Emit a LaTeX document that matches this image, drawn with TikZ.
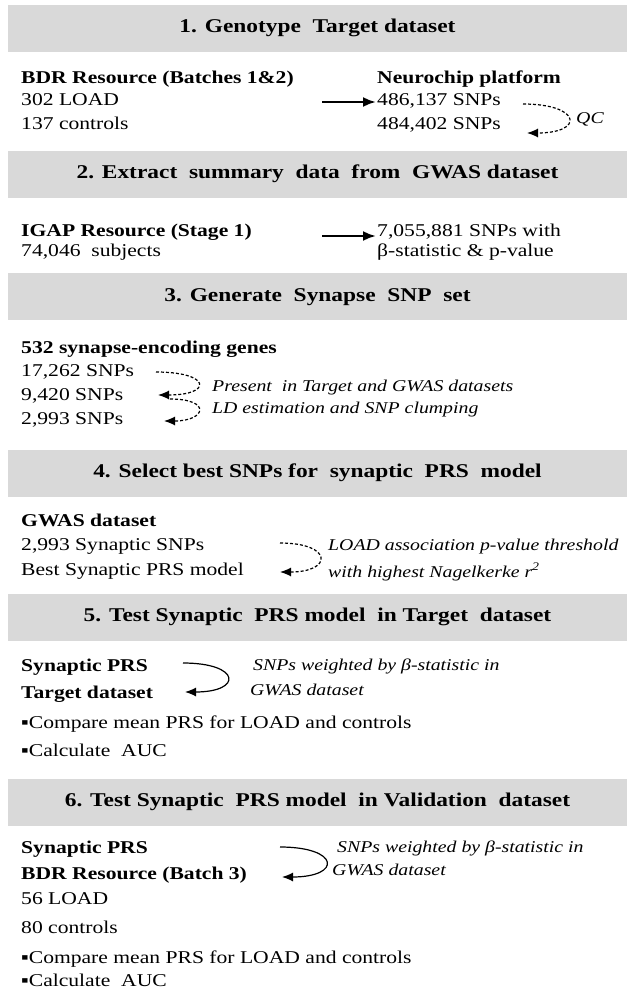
\documentclass[tikz,border=0pt]{standalone}
\usepackage{fontspec}
\setmainfont{Liberation Serif}[FakeStretch=1.2]
\usetikzlibrary{arrows.meta}
\definecolor{headgray}{RGB}{217,217,217}
\begin{document}
\begin{tikzpicture}[x=1pt,y=-1pt,
  hdr/.style={fill=headgray, draw=none, minimum width=619pt, minimum height=47pt, inner sep=0pt,
    font=\fontsize{19.5}{22}\selectfont\bfseries, text height=13pt, text depth=4pt},
  txt/.style={font=\fontsize{18}{20}\selectfont, anchor=base west, inner sep=0pt},
  btxt/.style={txt, font=\fontsize{18}{20}\selectfont\bfseries},
  itxt/.style={font=\fontsize{16.5}{19}\selectfont\itshape, anchor=base west, inner sep=0pt},
  bigarrow/.style={line width=2.4pt, -{Latex[length=13pt,width=10pt]}},
  curvearrow/.style={line width=1.2pt, -{Latex[length=11pt,width=9pt]}},
  dashcurve/.style={curvearrow, dash pattern=on 3pt off 2pt},
]
\useasboundingbox (0,0) rectangle (627,1006);

% headers
\node[hdr] (h1) at (317.5,28.5) {1. Genotype\ \ Target dataset};
\node[hdr] (h2) at (317.5,174) {2. Extract\ \ summary\ \ data\ \ from\ \ GWAS dataset};
\node[hdr] (h3) at (317.5,296.5) {3. Generate\ \ Synapse\ \ SNP\ \ set};
\node[hdr] (h4) at (317.5,473) {4. Select best SNPs for\ \ synaptic\ \ PRS\ \ model};
\node[hdr] (h5) at (317.5,617) {5. Test Synaptic\ \ PRS model\ \ in Target\ \ dataset};
\node[hdr] (h6) at (317.5,802) {6. Test Synaptic\ \ PRS model\ \ in Validation\ \ dataset};

% section 1
\node[btxt] (bdr) at (21,84) {BDR Resource (Batches 1\&2)};
\node[txt] (load1) at (21,106) {302 LOAD};
\node[txt] (ctrl1) at (21,129) {137 controls};
\node[btxt] (neuro) at (377,84) {Neurochip platform};
\node[txt] (snp1) at (377,106) {486,137 SNPs};
\node[txt] (snp2) at (377,129) {484,402 SNPs};
\coordinate (a1s) at (322,102);
\draw[bigarrow] (a1s) -- ([xshift=-1pt]snp1.west |- a1s);
\coordinate (q1) at (523,104);
\coordinate (q2) at (527,133);
\draw[dashcurve] (q1) .. controls +(58,0) and +(58,0) .. (q2);
\node[itxt] (qc) at (576,124) {QC};

% section 2
\node[btxt] (igap) at (21,236) {IGAP Resource (Stage 1)};
\node[txt] (subj) at (21,256) {74,046\ \ subjects};
\node[txt] (snp3) at (377,236) {7,055,881 SNPs with};
\node[txt] (beta) at (377,256) {β-statistic \& p-value};
\coordinate (a2s) at (322,236);
\draw[bigarrow] (a2s) -- ([xshift=-1pt]snp3.west |- a2s);

% section 3
\node[btxt] (genes) at (21,353) {532 synapse-encoding genes};
\node[txt] (s17) at (21,376) {17,262 SNPs};
\node[txt] (s9) at (21,400) {9,420 SNPs};
\node[txt] (s2) at (21,424) {2,993 SNPs};
\node[itxt] (present) at (212,391) {Present\ \ in Target and GWAS datasets};
\node[itxt] (ld) at (212,413) {LD estimation and SNP clumping};
\coordinate (c1) at (156,372);
\coordinate (c2) at (158,395);
\coordinate (c3) at (170,399);
\coordinate (c4) at (164,421);
\draw[dashcurve] (c1) .. controls +(55,0) and +(55,0) .. (c2);
\draw[dashcurve] (c3) .. controls +(42,0) and +(42,0) .. (c4);

% section 4
\node[btxt] (gwas) at (21,526) {GWAS dataset};
\node[txt] (syn) at (21,550) {2,993 Synaptic SNPs};
\node[txt] (best) at (21,575) {Best Synaptic PRS model};
\node[itxt] (loadp) at (328,550) {LOAD association p-value threshold};
\node[itxt] (nagel) at (328,577) {with highest Nagelkerke r\textsuperscript{2}};
\coordinate (d1) at (280,543);
\coordinate (d2) at (280,572);
\draw[dashcurve] (d1) .. controls +(53,0) and +(53,0) .. (d2);

% section 5
\node[btxt] (sprs1) at (21,671) {Synaptic PRS};
\node[btxt] (tgt) at (21,698) {Target dataset};
\node[txt] (cmp1) at (21,728) {▪Compare mean PRS for LOAD and controls};
\node[txt] (auc1) at (21,756) {▪Calculate\ \ AUC};
\node[itxt] (w1) at (253,670) {SNPs weighted by β-statistic in};
\node[itxt] (g1) at (250,695) {GWAS dataset};
\coordinate (e1) at (183,663);
\coordinate (e2) at (185,692);
\draw[curvearrow] (e1) .. controls +(58,0) and +(58,0) .. (e2);

% section 6
\node[btxt] (sprs2) at (21,853) {Synaptic PRS};
\node[btxt] (bdr3) at (21,879) {BDR Resource (Batch 3)};
\node[txt] (load3) at (21,904) {56 LOAD};
\node[txt] (ctrl3) at (21,933) {80 controls};
\node[txt] (cmp2) at (21,963) {▪Compare mean PRS for LOAD and controls};
\node[txt] (auc2) at (21,986) {▪Calculate\ \ AUC};
\node[itxt] (w2) at (337,852) {SNPs weighted by β-statistic in};
\node[itxt] (g2) at (332,875) {GWAS dataset};
\coordinate (f1) at (280,847);
\coordinate (f2) at (282,877);
\draw[curvearrow] (f1) .. controls +(60,0) and +(60,0) .. (f2);
\end{tikzpicture}
\end{document}
